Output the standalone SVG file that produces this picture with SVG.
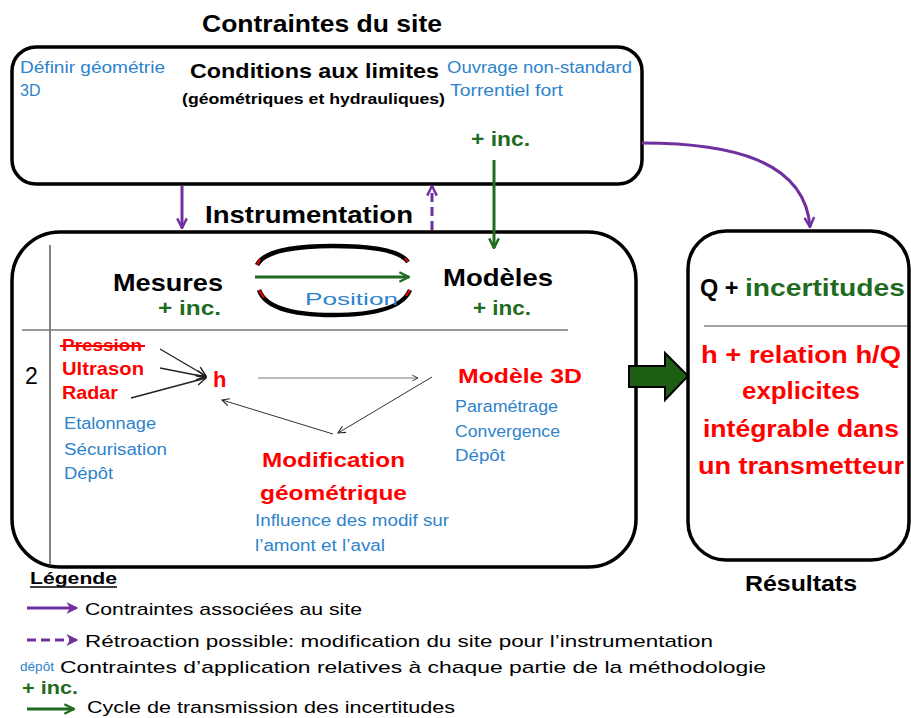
<svg xmlns="http://www.w3.org/2000/svg" width="911" height="718" viewBox="0 0 911 718">
<defs>
<style>
text{font-family:"Liberation Sans",Arial,sans-serif;}
.b{font-weight:bold;}
.blue{fill:#2e83cc;}
.red{fill:#ff0000;font-weight:bold;}
.grn{fill:#1f6b1f;font-weight:bold;}
.box{fill:#fff;stroke:#000;stroke-width:3.5;}
.pur{stroke:#7030a0;stroke-width:3;fill:none;}
.gl{stroke:#1f6b1f;stroke-width:3;fill:none;}
.thin{stroke:#222;stroke-width:1.3;fill:none;}
</style>
<marker id="mp" viewBox="0 0 10 10" refX="9" refY="5" markerWidth="4" markerHeight="4" orient="auto" markerUnits="strokeWidth"><path d="M1,1 L9,5 L1,9" fill="none" stroke="#7030a0" stroke-width="2"/></marker>
<marker id="mpf" viewBox="0 0 10 10" refX="8" refY="5" markerWidth="4" markerHeight="4" orient="auto" markerUnits="strokeWidth"><path d="M0,0 L10,5 L0,10 L3,5z" fill="#7030a0"/></marker>
<marker id="mg" viewBox="0 0 10 10" refX="9" refY="5" markerWidth="4" markerHeight="4" orient="auto" markerUnits="strokeWidth"><path d="M1,1 L9,5 L1,9" fill="none" stroke="#1f6b1f" stroke-width="2"/></marker>
<marker id="mk" viewBox="0 0 10 10" refX="9" refY="5" markerWidth="9" markerHeight="9" orient="auto" markerUnits="strokeWidth"><path d="M1,1 L9,5 L1,9" fill="none" stroke="#222" stroke-width="1.2"/></marker>
</defs>
<rect width="911" height="718" fill="#fff"/>

<text x="322" y="32" class="b" font-size="24" text-anchor="middle" textLength="240" lengthAdjust="spacingAndGlyphs">Contraintes du site</text>

<g id="site">
<rect class="box" x="12" y="47" width="630" height="137" rx="24"/>
<text x="20" y="73" class="blue" font-size="16" textLength="145" lengthAdjust="spacingAndGlyphs">Définir géométrie</text>
<text x="20" y="96" class="blue" font-size="16">3D</text>
<text x="190" y="78" class="b" font-size="21" textLength="249" lengthAdjust="spacingAndGlyphs">Conditions aux limites</text>
<text x="182" y="104" class="b" font-size="15" textLength="263" lengthAdjust="spacingAndGlyphs">(géométriques et hydrauliques)</text>
<text x="447" y="73" class="blue" font-size="16" textLength="185" lengthAdjust="spacingAndGlyphs">Ouvrage non-standard</text>
<text x="450" y="96" class="blue" font-size="16" textLength="113" lengthAdjust="spacingAndGlyphs">Torrentiel fort</text>
<text x="471" y="146" class="grn" font-size="20" textLength="59" lengthAdjust="spacingAndGlyphs">+ inc.</text>
</g>

<text x="205" y="223" class="b" font-size="24" textLength="208" lengthAdjust="spacingAndGlyphs">Instrumentation</text>

<g id="instrumentation">
<rect class="box" x="12" y="232" width="624" height="335" rx="48"/>
<line x1="50" y1="245" x2="50" y2="567" stroke="#333" stroke-width="1.2"/>
<line x1="22" y1="330" x2="568" y2="330" stroke="#777" stroke-width="1.5"/>
<text x="113" y="291" class="b" font-size="24" textLength="110" lengthAdjust="spacingAndGlyphs">Mesures</text>
<text x="158" y="315" class="grn" font-size="21" textLength="63" lengthAdjust="spacingAndGlyphs">+ inc.</text>
<text x="443" y="286" class="b" font-size="24" textLength="110" lengthAdjust="spacingAndGlyphs">Modèles</text>
<text x="473" y="315" class="grn" font-size="21" textLength="58" lengthAdjust="spacingAndGlyphs">+ inc.</text>
<path d="M257,265 C264,250 300,246 333,246 C370,246 400,250 408,262" fill="none" stroke="#000" stroke-width="4.5"/>
<path d="M257,265 L260,259 M405,258 L408,262" stroke="#e00" stroke-width="2" fill="none"/>
<path d="M259,290 C266,310 300,315 333,315 C370,315 402,309 410,290" fill="none" stroke="#000" stroke-width="4.5"/>
<path d="M259,290 L264,298 M406,296 L410,290" stroke="#e00" stroke-width="2" fill="none"/>
<line x1="255" y1="277" x2="409" y2="277" class="gl" marker-end="url(#mg)"/>
<text x="305" y="305" class="blue" font-size="16" textLength="93" lengthAdjust="spacingAndGlyphs">Position</text>
<text x="25" y="384" font-size="23">2</text>
<text x="62" y="351" class="red" font-size="17" textLength="80" lengthAdjust="spacingAndGlyphs">Pression</text>
<line x1="60" y1="346" x2="145" y2="346" stroke="#ff0000" stroke-width="2"/>
<text x="62" y="375" class="red" font-size="19" textLength="82" lengthAdjust="spacingAndGlyphs">Ultrason</text>
<text x="62" y="399" class="red" font-size="19" textLength="56" lengthAdjust="spacingAndGlyphs">Radar</text>
<text x="213" y="387" class="red" font-size="22">h</text>
<text x="64" y="429" class="blue" font-size="16" textLength="92" lengthAdjust="spacingAndGlyphs">Etalonnage</text>
<text x="64" y="455" class="blue" font-size="16" textLength="103" lengthAdjust="spacingAndGlyphs">Sécurisation</text>
<text x="64" y="479" class="blue" font-size="16" textLength="49" lengthAdjust="spacingAndGlyphs">Dépôt</text>
<text x="458" y="383" class="red" font-size="21" textLength="124" lengthAdjust="spacingAndGlyphs">Modèle 3D</text>
<text x="455" y="412" class="blue" font-size="16" textLength="103" lengthAdjust="spacingAndGlyphs">Paramétrage</text>
<text x="455" y="437" class="blue" font-size="16" textLength="105" lengthAdjust="spacingAndGlyphs">Convergence</text>
<text x="455" y="461" class="blue" font-size="16" textLength="50" lengthAdjust="spacingAndGlyphs">Dépôt</text>
<text x="262" y="467" class="red" font-size="21" textLength="143" lengthAdjust="spacingAndGlyphs">Modification</text>
<text x="260" y="500" class="red" font-size="21" textLength="147" lengthAdjust="spacingAndGlyphs">géométrique</text>
<text x="255" y="526" class="blue" font-size="16" textLength="194" lengthAdjust="spacingAndGlyphs">Influence des modif sur</text>
<text x="255" y="551" class="blue" font-size="16" textLength="130" lengthAdjust="spacingAndGlyphs">l’amont et l’aval</text>
</g>

<g id="resultats">
<rect class="box" x="688" y="231" width="221" height="329" rx="38"/>
<text x="700" y="296" class="b" font-size="24"><tspan textLength="45" lengthAdjust="spacingAndGlyphs">Q + </tspan><tspan fill="#1f6b1f" textLength="160" lengthAdjust="spacingAndGlyphs">incertitudes</tspan></text>
<line x1="704" y1="326" x2="908" y2="326" stroke="#444" stroke-width="1.2"/>
<text x="801" y="363" class="red" font-size="24" text-anchor="middle" textLength="200" lengthAdjust="spacingAndGlyphs">h + relation h/Q</text>
<text x="801" y="399" class="red" font-size="24" text-anchor="middle" textLength="118" lengthAdjust="spacingAndGlyphs">explicites</text>
<text x="801" y="437" class="red" font-size="24" text-anchor="middle" textLength="196" lengthAdjust="spacingAndGlyphs">intégrable dans</text>
<text x="801" y="474" class="red" font-size="24" text-anchor="middle" textLength="206" lengthAdjust="spacingAndGlyphs">un transmetteur</text>
<text x="801" y="591" class="b" font-size="22" text-anchor="middle" textLength="112" lengthAdjust="spacingAndGlyphs">Résultats</text>
</g>

<g id="connectors">
<line x1="182" y1="186" x2="182" y2="228" class="pur" marker-end="url(#mp)"/>
<line x1="432" y1="230" x2="432" y2="186" class="pur" stroke-dasharray="9,5" marker-end="url(#mp)"/>
<line x1="494" y1="160" x2="494" y2="248" class="gl" marker-end="url(#mg)"/>
<path d="M642,143 C730,143 805,160 810,227" class="pur" marker-end="url(#mp)"/>
<path d="M629,366 L665,366 L665,353 L688,376 L665,400 L665,387 L629,387 Z" fill="#1d5e14" stroke="#000" stroke-width="2"/>
<line x1="160" y1="349" x2="206" y2="376" class="thin" marker-end="url(#mk)"/>
<line x1="160" y1="368" x2="206" y2="377" class="thin" marker-end="url(#mk)"/>
<line x1="131" y1="398" x2="206" y2="378" class="thin" marker-end="url(#mk)"/>
<line x1="258" y1="378" x2="418" y2="378" stroke="#555" stroke-width="0.8" marker-end="url(#mk)"/>
<line x1="432" y1="377" x2="338" y2="433" stroke="#333" stroke-width="1" marker-end="url(#mk)"/>
<line x1="333" y1="434" x2="222" y2="400" stroke="#333" stroke-width="1" marker-end="url(#mk)"/>
</g>

<g id="legende">
<text x="30" y="584" class="b" font-size="17" textLength="87" lengthAdjust="spacingAndGlyphs">Légende</text>
<line x1="30" y1="587" x2="117" y2="587" stroke="#000" stroke-width="1.3"/>
<line x1="27" y1="608" x2="76" y2="608" stroke="#7030a0" stroke-width="3" marker-end="url(#mpf)"/>
<text x="85" y="615" font-size="17" textLength="277" lengthAdjust="spacingAndGlyphs">Contraintes associées au site</text>
<line x1="27" y1="640" x2="76" y2="640" stroke="#7030a0" stroke-width="3" stroke-dasharray="9,5" marker-end="url(#mpf)"/>
<text x="85" y="647" font-size="17" textLength="628" lengthAdjust="spacingAndGlyphs">Rétroaction possible: modification du site pour l’instrumentation</text>
<text x="20" y="671" class="blue" font-size="13" textLength="34" lengthAdjust="spacingAndGlyphs">dépôt</text>
<text x="60" y="673" font-size="17" textLength="706" lengthAdjust="spacingAndGlyphs">Contraintes d’application relatives à chaque partie de la méthodologie</text>
<text x="22" y="694" class="grn" font-size="19" textLength="56" lengthAdjust="spacingAndGlyphs">+ inc.</text>
<line x1="27" y1="709" x2="74" y2="709" class="gl" stroke-width="2" marker-end="url(#mg)"/>
<text x="87" y="713" font-size="17" textLength="368" lengthAdjust="spacingAndGlyphs">Cycle de transmission des incertitudes</text>
</g>
</svg>
